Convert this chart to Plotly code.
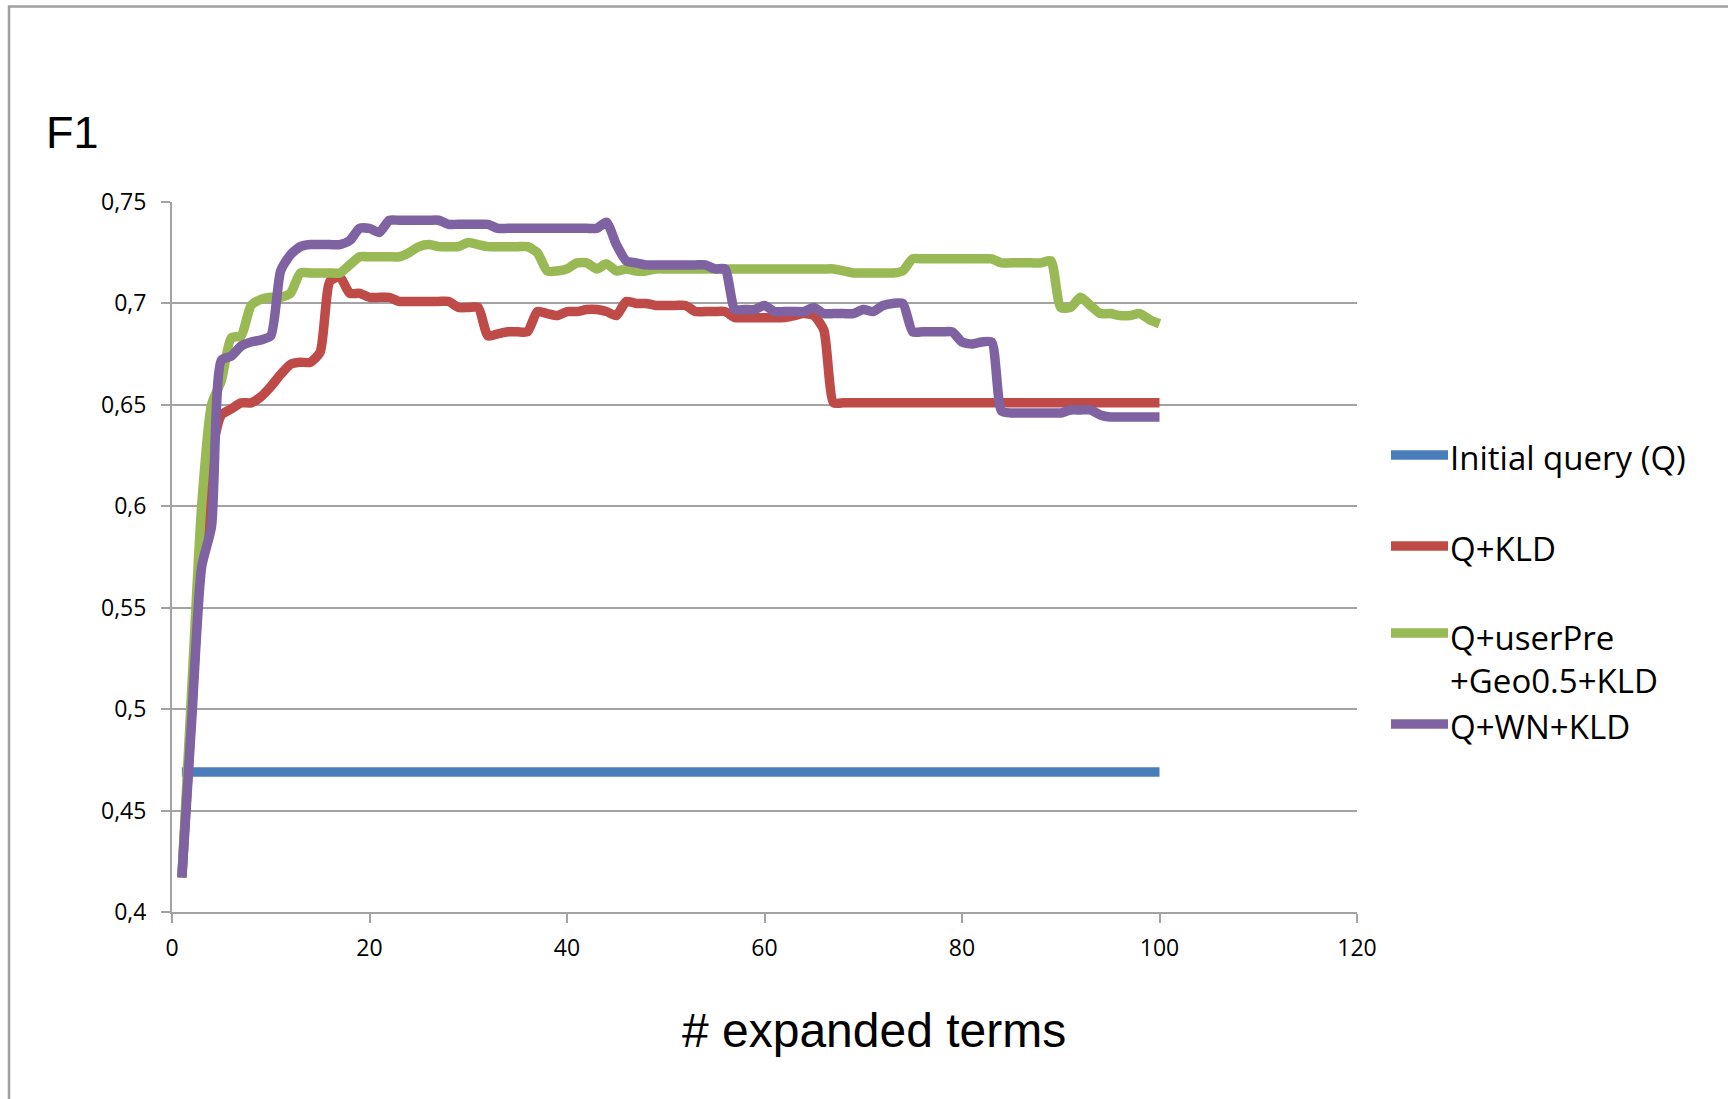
import plotly.graph_objects as go

# Number of expanded query terms (x axis)
TERMS = list(range(1, 101))

# F1 of the unexpanded query (constant baseline)
INITIAL_F1 = 0.469

# F1 per number of expanded terms
Q_KLD = [
    0.417, 0.500, 0.580, 0.625, 0.645, 0.648, 0.651, 0.651, 0.654, 0.659,
    0.665, 0.670, 0.671, 0.671, 0.676, 0.711, 0.713, 0.705, 0.705, 0.703,
    0.703, 0.703, 0.701, 0.701, 0.701, 0.701, 0.701, 0.701, 0.698, 0.698,
    0.698, 0.684, 0.685, 0.686, 0.686, 0.686, 0.696, 0.695, 0.694, 0.696,
    0.696, 0.697, 0.697, 0.696, 0.694, 0.701, 0.700, 0.700, 0.699, 0.699,
    0.699, 0.699, 0.696, 0.696, 0.696, 0.696, 0.693, 0.693, 0.693, 0.693,
    0.693, 0.693, 0.694, 0.695, 0.694, 0.687, 0.651, 0.651, 0.651, 0.651,
    0.651, 0.651, 0.651, 0.651, 0.651, 0.651, 0.651, 0.651, 0.651, 0.651,
    0.651, 0.651, 0.651, 0.651, 0.651, 0.651, 0.651, 0.651, 0.651, 0.651,
    0.651, 0.651, 0.651, 0.651, 0.651, 0.651, 0.651, 0.651, 0.651, 0.651,
]

Q_USERPRE_GEO_KLD = [
    0.417, 0.510, 0.600, 0.650, 0.662, 0.683, 0.684, 0.699, 0.702, 0.703,
    0.703, 0.705, 0.715, 0.715, 0.715, 0.715, 0.715, 0.719, 0.723, 0.723,
    0.723, 0.723, 0.723, 0.725, 0.728, 0.729, 0.728, 0.728, 0.728, 0.730,
    0.729, 0.728, 0.728, 0.728, 0.728, 0.728, 0.725, 0.716, 0.716, 0.717,
    0.720, 0.720, 0.717, 0.7195, 0.716, 0.717, 0.716, 0.716, 0.717, 0.717,
    0.717, 0.717, 0.717, 0.717, 0.717, 0.717, 0.717, 0.717, 0.717, 0.717,
    0.717, 0.717, 0.717, 0.717, 0.717, 0.717, 0.717, 0.716, 0.715, 0.715,
    0.715, 0.715, 0.715, 0.716, 0.722, 0.722, 0.722, 0.722, 0.722, 0.722,
    0.722, 0.722, 0.722, 0.720, 0.720, 0.720, 0.720, 0.720, 0.721, 0.698,
    0.698, 0.703, 0.699, 0.695, 0.695, 0.694, 0.694, 0.695, 0.692, 0.690,
]

Q_WN_KLD = [
    0.417, 0.495, 0.570, 0.590, 0.672, 0.674, 0.679, 0.681, 0.682, 0.684,
    0.716, 0.724, 0.728, 0.729, 0.729, 0.729, 0.729, 0.731, 0.737, 0.737,
    0.735, 0.741, 0.741, 0.741, 0.741, 0.741, 0.741, 0.739, 0.739, 0.739,
    0.739, 0.739, 0.737, 0.737, 0.737, 0.737, 0.737, 0.737, 0.737, 0.737,
    0.737, 0.737, 0.737, 0.740, 0.729, 0.721, 0.720, 0.719, 0.719, 0.719,
    0.719, 0.719, 0.719, 0.719, 0.717, 0.717, 0.697, 0.697, 0.697, 0.699,
    0.696, 0.696, 0.696, 0.696, 0.698, 0.695, 0.695, 0.695, 0.695, 0.697,
    0.696, 0.699, 0.700, 0.700, 0.686, 0.686, 0.686, 0.686, 0.686, 0.681,
    0.680, 0.681, 0.681, 0.647, 0.646, 0.646, 0.646, 0.646, 0.646, 0.646,
    0.6475, 0.6475, 0.6475, 0.645, 0.644, 0.644, 0.644, 0.644, 0.644, 0.644,
]

SERIES_NAMES = ["Initial query (Q)", "Q+KLD", "Q+userPre<br>+Geo0.5+KLD", "Q+WN+KLD"]
SERIES_COLORS = ["#4A7EBB", "#BE4B48", "#98B954", "#7F62A1"]

X_TICKS = [0, 20, 40, 60, 80, 100, 120]
Y_TICKS = [0.4, 0.45, 0.5, 0.55, 0.6, 0.65, 0.7, 0.75]
Y_TICK_TEXT = ["0,4", "0,45", "0,5", "0,55", "0,6", "0,65", "0,7", "0,75"]

W, H = 1728, 1099
ML, MR, MT, MB = 172, 371, 202, 187
PW, PH = W - ML - MR, H - MT - MB


def px_x(fx):
    return (fx - ML) / PW


def px_y(fy):
    return (H - MB - fy) / PH


GRID = "#A3A3A3"
LINE_W = 9.5

series_values = [[INITIAL_F1] * len(TERMS), Q_KLD, Q_USERPRE_GEO_KLD, Q_WN_KLD]

fig = go.Figure()
for name, color, ys in zip(SERIES_NAMES, SERIES_COLORS, series_values):
    fig.add_trace(go.Scatter(
        x=TERMS, y=ys, name=name.replace("<br>", " "), mode="lines",
        line=dict(color=color, width=LINE_W, shape="spline", smoothing=0.6),
        showlegend=False,
    ))

# Legend drawn to the right of the plot area
legend_line_y = [455, 546, 633, 724]
legend_text_y = [457, 548, 659, 726]
shapes = []
annotations = []
for name, color, ly, ty in zip(SERIES_NAMES, SERIES_COLORS, legend_line_y, legend_text_y):
    shapes.append(dict(
        type="line", xref="paper", yref="paper",
        x0=px_x(1391), x1=px_x(1448), y0=px_y(ly), y1=px_y(ly),
        line=dict(color=color, width=LINE_W),
    ))
    annotations.append(dict(
        text=name, xref="paper", yref="paper", x=px_x(1448), y=px_y(ty),
        xanchor="left", yanchor="middle", align="left", showarrow=False,
        font=dict(family="Open Sans", size=33, color="#000000"),
    ))

# Outer chart frame
shapes.append(dict(
    type="rect", xref="paper", yref="paper",
    x0=px_x(9), x1=px_x(W + 20), y0=px_y(6.5), y1=px_y(H + 20),
    line=dict(color="#A0A0A0", width=2.5), fillcolor="rgba(0,0,0,0)", layer="below",
))

annotations.append(dict(
    text="F1", xref="paper", yref="paper", x=px_x(44), y=px_y(133),
    xanchor="left", yanchor="middle", showarrow=False,
    font=dict(family="Liberation Sans", size=45, color="#000000"),
))
annotations.append(dict(
    text="# expanded terms", xref="paper", yref="paper", x=px_x(874), y=px_y(1030),
    xanchor="center", yanchor="middle", showarrow=False,
    font=dict(family="Liberation Sans", size=48, color="#000000"),
))

fig.update_layout(
    width=W, height=H,
    margin=dict(l=ML, r=MR, t=MT, b=MB, pad=0),
    paper_bgcolor="white", plot_bgcolor="white",
    shapes=shapes, annotations=annotations,
    font=dict(family="Open Sans", size=23, color="#000000"),
    showlegend=False,
)
fig.update_xaxes(
    range=[0, 120], tickvals=X_TICKS, showgrid=False, zeroline=False,
    showline=True, linecolor=GRID, linewidth=2,
    ticks="outside", ticklen=9, tickwidth=2, tickcolor=GRID,
    ticklabelstandoff=5,
    tickfont=dict(family="Open Sans", size=23, color="#000000"),
)
fig.update_yaxes(
    range=[0.4, 0.75], tickvals=Y_TICKS, ticktext=Y_TICK_TEXT,
    showgrid=True, gridcolor=GRID, gridwidth=2, zeroline=False,
    showline=True, linecolor=GRID, linewidth=2,
    ticks="outside", ticklen=9, tickwidth=2, tickcolor=GRID,
    ticklabelstandoff=10,
    tickfont=dict(family="Open Sans", size=23, color="#000000"),
)

fig.write_html("out.html")
